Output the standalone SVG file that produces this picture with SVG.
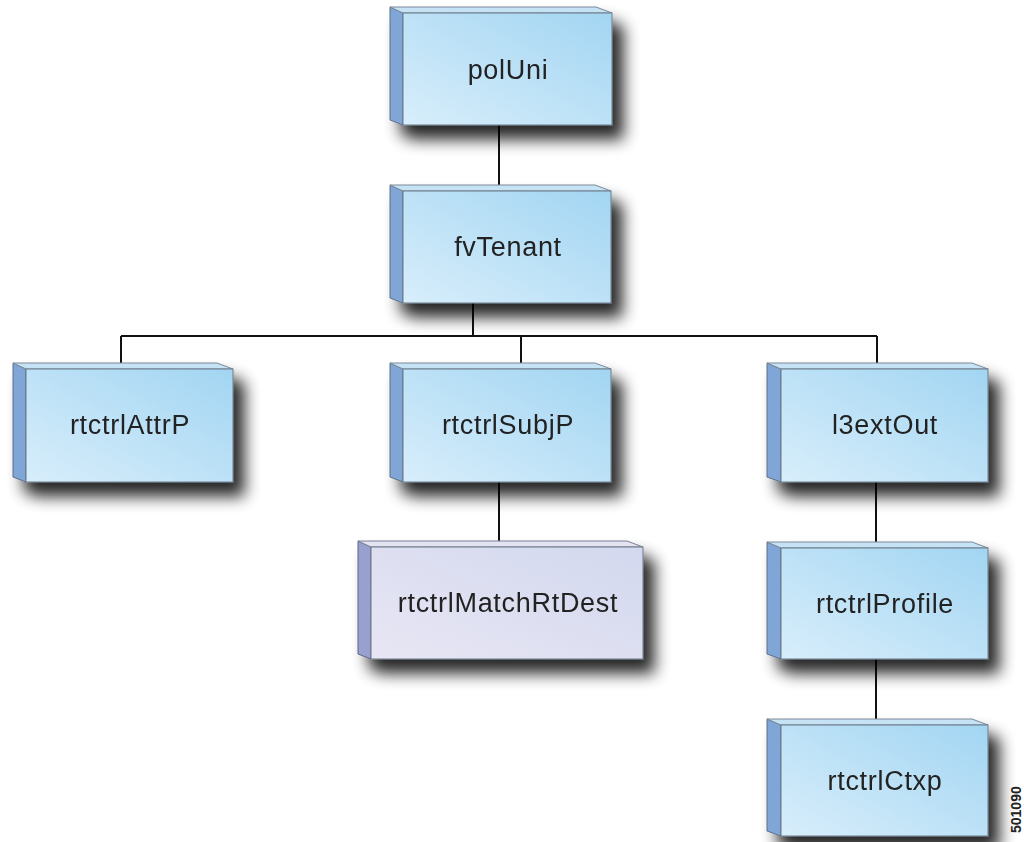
<svg xmlns="http://www.w3.org/2000/svg" width="1024" height="842" viewBox="0 0 1024 842">
<style>
.lbl{font-family:"Liberation Sans",Arial,sans-serif;font-size:27px;letter-spacing:0.7px;fill:#222;text-anchor:middle}
.edge{stroke:#111;stroke-width:2;fill:none}
.front{fill:url(#gBlue);stroke:#6b7886;stroke-width:1}
.side{fill:#7fa6d6;stroke:#5d6f85;stroke-width:1}
.top{fill:#c6e3f5;stroke:#7a8896;stroke-width:1}
.frontL{fill:url(#gLav);stroke:#6b7886;stroke-width:1}
.sideL{fill:#97a0cf;stroke:#5d6585;stroke-width:1}
.topL{fill:#e3e3f1;stroke:#7a8096;stroke-width:1}
.tag{font-family:"Liberation Sans",Arial,sans-serif;font-size:14px;font-weight:bold;fill:#222}
</style>
<defs>
<linearGradient id="gBlue" x1="0" y1="1" x2="1" y2="0">
<stop offset="0" stop-color="#d8eefb"/>
<stop offset="1" stop-color="#a2d5f2"/>
</linearGradient>
<linearGradient id="gLav" x1="0" y1="1" x2="1" y2="0">
<stop offset="0" stop-color="#e8e6f4"/>
<stop offset="1" stop-color="#d2d8ee"/>
</linearGradient>
<filter id="sh" x="-30%" y="-30%" width="170%" height="190%">
<feGaussianBlur in="SourceAlpha" stdDeviation="8"/>
<feOffset dx="11" dy="14" result="b"/>
<feComponentTransfer><feFuncA type="linear" slope="0.85"/></feComponentTransfer>
<feMerge><feMergeNode/><feMergeNode in="SourceGraphic"/></feMerge>
</filter>
</defs>
<rect width="1024" height="842" fill="#fff"/>
<g id="connectors">
<path class="edge" d="M499 125V191"/>
<path class="edge" d="M473 303V336M121 336H877M121 336V369M521 336V369M877 336V369"/>
<path class="edge" d="M499 482V547"/>
<path class="edge" d="M876 482V548"/>
<path class="edge" d="M876 659V725"/>
</g>
<g id="polUni" filter="url(#sh)">
<polygon class="side" points="390,7 403,13 403,125 390,120"/>
<polygon class="top" points="390,7 596,7 612,13 403,13"/>
<rect class="front" x="403" y="13" width="209" height="112"/>
<text class="lbl" x="508" y="79">polUni</text>
</g>
<g id="fvTenant" filter="url(#sh)">
<polygon class="side" points="390,185 403,191 403,303 390,298"/>
<polygon class="top" points="390,185 595,185 611,191 403,191"/>
<rect class="front" x="403" y="191" width="208" height="112"/>
<text class="lbl" x="508" y="256">fvTenant</text>
</g>
<g id="rtctrlAttrP" filter="url(#sh)">
<polygon class="side" points="13,363 26,369 26,482 13,477"/>
<polygon class="top" points="13,363 217,363 233,369 26,369"/>
<rect class="front" x="26" y="369" width="207" height="113"/>
<text class="lbl" x="130" y="434">rtctrlAttrP</text>
</g>
<g id="rtctrlSubjP" filter="url(#sh)">
<polygon class="side" points="390,363 403,369 403,482 390,477"/>
<polygon class="top" points="390,363 595,363 611,369 403,369"/>
<rect class="front" x="403" y="369" width="208" height="113"/>
<text class="lbl" x="508" y="434">rtctrlSubjP</text>
</g>
<g id="l3extOut" filter="url(#sh)">
<polygon class="side" points="767,363 781,369 781,482 767,477"/>
<polygon class="top" points="767,363 972,363 988,369 781,369"/>
<rect class="front" x="781" y="369" width="207" height="113"/>
<text class="lbl" x="885" y="434">l3extOut</text>
</g>
<g id="rtctrlMatchRtDest" filter="url(#sh)">
<polygon class="sideL" points="358,541 371,547 371,659 358,654"/>
<polygon class="topL" points="358,541 627,541 643,547 371,547"/>
<rect class="frontL" x="371" y="547" width="272" height="112"/>
<text class="lbl" x="508" y="612">rtctrlMatchRtDest</text>
</g>
<g id="rtctrlProfile" filter="url(#sh)">
<polygon class="side" points="767,542 781,548 781,659 767,654"/>
<polygon class="top" points="767,542 972,542 988,548 781,548"/>
<rect class="front" x="781" y="548" width="207" height="111"/>
<text class="lbl" x="885" y="613">rtctrlProfile</text>
</g>
<g id="rtctrlCtxp" filter="url(#sh)">
<polygon class="side" points="767,719 781,725 781,836 767,831"/>
<polygon class="top" points="767,719 972,719 988,725 781,725"/>
<rect class="front" x="781" y="725" width="207" height="111"/>
<text class="lbl" x="885" y="790">rtctrlCtxp</text>
</g>
<text class="tag" transform="translate(1021,833) rotate(-90)">501090</text>
</svg>
